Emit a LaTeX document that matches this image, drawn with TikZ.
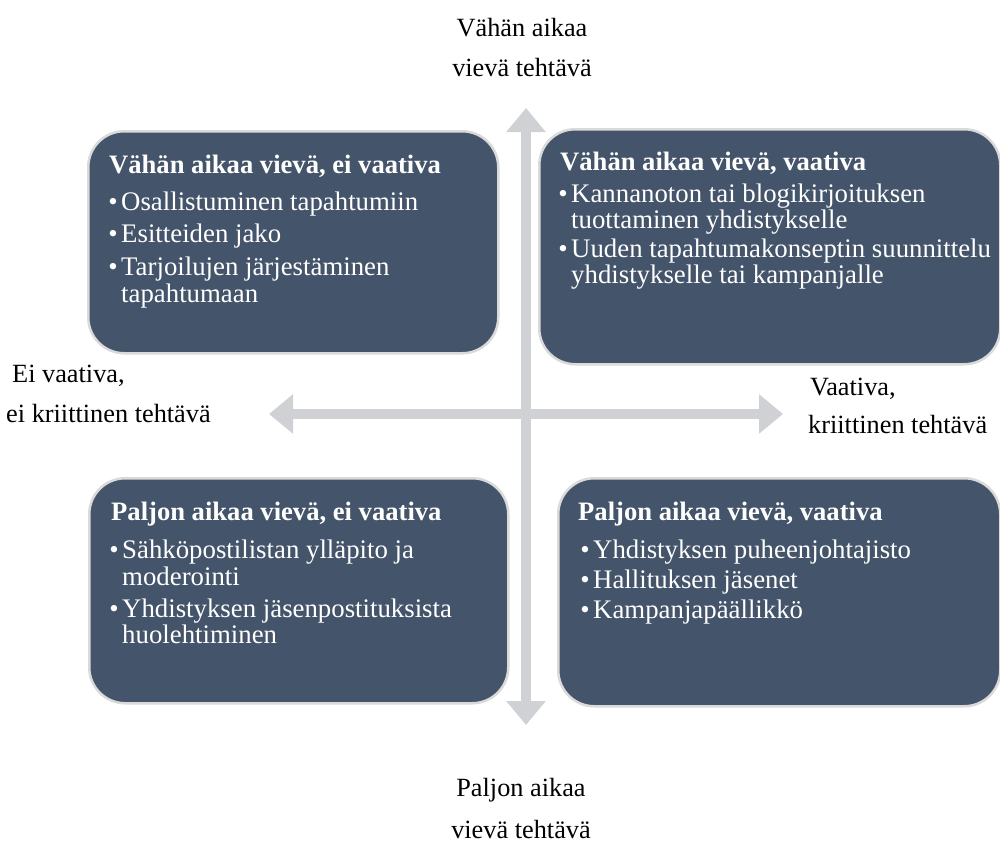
\documentclass[tikz,border=0pt]{standalone}
\usepackage{fontspec}
\setmainfont{Liberation Serif}
\usetikzlibrary{arrows.meta}

\definecolor{boxfill}{RGB}{68,84,106}
\definecolor{boxedge}{RGB}{218,218,218}
\definecolor{axisgray}{RGB}{207,209,213}

\begin{document}
\begin{tikzpicture}[
  x=1pt, y=-1pt,
  quad/.style={draw=boxedge, line width=2.5pt, fill=boxfill,
    rounded corners=36pt, anchor=north west, inner sep=0pt},
  axisline/.style={draw=axisgray, line width=10.5pt,
    {Triangle[length=24pt,width=38pt]}-{Triangle[length=24pt,width=38pt]}},
  ttl/.style={anchor=base west, inner sep=0pt, text=white,
    font=\bfseries\fontsize{26.6}{28}\selectfont},
  itm/.style={anchor=base west, inner sep=0pt, text=white,
    font=\fontsize{26.8}{27}\selectfont},
  bul/.style={anchor=base east, inner sep=0pt, text=white,
    font=\fontsize{26.8}{27}\selectfont},
  lbl/.style={inner sep=0pt, text=black,
    font=\fontsize{26.3}{28}\selectfont},
]
% canvas
\path[use as bounding box, fill=white] (0,0) rectangle (1000,843);

% axes
\coordinate (ytop) at (526,108);
\coordinate (ybot) at (526,725);
\coordinate (xleft) at (269,414);
\coordinate (xright) at (783,414);
\draw[axisline] (ytop) -- (ybot);
\draw[axisline] (xleft) -- (xright);

% quadrant boxes
\node[quad, minimum width=410pt, minimum height=222pt] (q1) at (87,130) {};
\node[quad, minimum width=461pt, minimum height=235pt] (q2) at (538,128) {};
\node[quad, minimum width=419pt, minimum height=225pt] (q3) at (88,477) {};
\node[quad, minimum width=442pt, minimum height=228pt] (q4) at (557,477) {};

% top-left quadrant
\node[ttl] (q1t) at (109,173) {Vähän aikaa vievä, ei vaativa};
\node[bul] (q1b1) at (118,210) {\textbullet};
\node[itm] (q1a) at (121,210) {Osallistuminen tapahtumiin};
\node[bul] (q1b2) at (118,242) {\textbullet};
\node[itm] (q1b) at (121,242) {Esitteiden jako};
\node[bul] (q1b3) at (118,275) {\textbullet};
\node[itm] (q1c) at (121,275) {Tarjoilujen järjestäminen};
\node[itm] (q1d) at (121,302) {tapahtumaan};

% top-right quadrant
\node[ttl] (q2t) at (560,170) {Vähän aikaa vievä, vaativa};
\node[bul] (q2b1) at (568,202) {\textbullet};
\node[itm] (q2a) at (571,202) {Kannanoton tai blogikirjoituksen};
\node[itm] (q2b) at (571,228) {tuottaminen yhdistykselle};
\node[bul] (q2b2) at (568,257) {\textbullet};
\node[itm] (q2c) at (571,257) {Uuden tapahtumakonseptin suunnittelu};
\node[itm] (q2d) at (571,283) {yhdistykselle tai kampanjalle};

% bottom-left quadrant
\node[ttl] (q3t) at (111,520) {Paljon aikaa vievä, ei vaativa};
\node[bul] (q3b1) at (119,558) {\textbullet};
\node[itm] (q3a) at (122,558) {Sähköpostilistan ylläpito ja};
\node[itm] (q3b) at (122,585) {moderointi};
\node[bul] (q3b2) at (119,617) {\textbullet};
\node[itm] (q3c) at (122,617) {Yhdistyksen jäsenpostituksista};
\node[itm] (q3d) at (122,643) {huolehtiminen};

% bottom-right quadrant
\node[ttl] (q4t) at (578,520) {Paljon aikaa vievä, vaativa};
\node[bul] (q4b1) at (590,558) {\textbullet};
\node[itm] (q4a) at (593,558) {Yhdistyksen puheenjohtajisto};
\node[bul] (q4b2) at (590,588) {\textbullet};
\node[itm] (q4b) at (593,588) {Hallituksen jäsenet};
\node[bul] (q4b3) at (590,618) {\textbullet};
\node[itm] (q4c) at (593,618) {Kampanjapäällikkö};

% axis labels
\node[lbl, anchor=base] (topa) at (522,37) {Vähän aikaa};
\node[lbl, anchor=base] (topb) at (522,77) {vievä tehtävä};
\node[lbl, anchor=base] (bota) at (521,796) {Paljon aikaa};
\node[lbl, anchor=base] (botb) at (521,838) {vievä tehtävä};
\node[lbl, anchor=base west] (lefta) at (12,382) {Ei vaativa,};
\node[lbl, anchor=base west] (leftb) at (6,422) {ei kriittinen tehtävä};
\node[lbl, anchor=base west] (righta) at (810,395) {Vaativa,};
\node[lbl, anchor=base west] (rightb) at (808,433) {kriittinen tehtävä};
\end{tikzpicture}
\end{document}
